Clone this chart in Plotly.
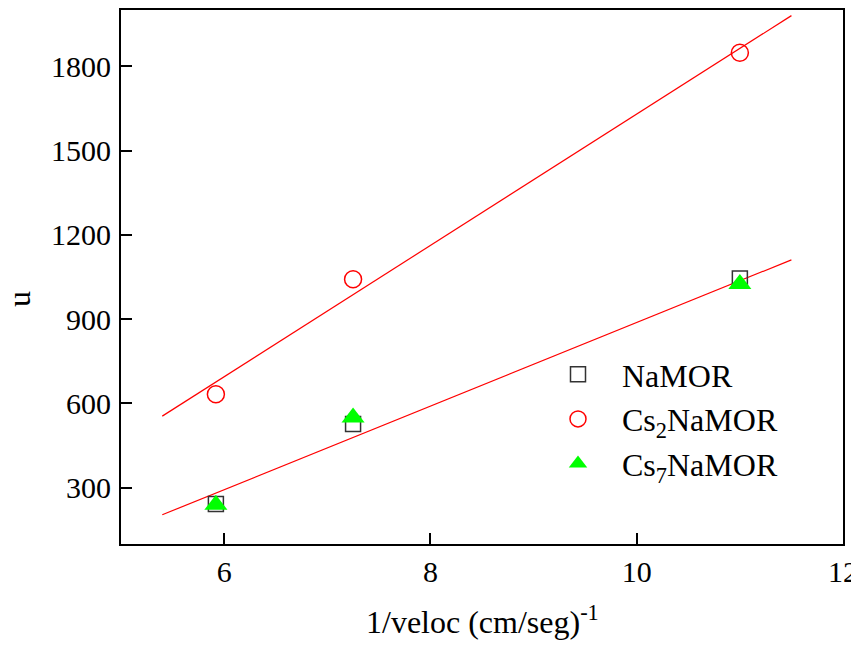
import plotly.graph_objects as go

x_vals = [5.92, 7.25, 11.0]
namor = [242, 527, 1045]
cs2namor = [633, 1042, 1848]
cs7namor = [240, 550, 1025]

fit_x = [5.4, 11.5]
fit_upper = [555, 1980]
fit_lower = [204, 1111]

x_ticks = [6, 8, 10, 12]
y_ticks = [300, 600, 900, 1200, 1500, 1800]

FONT = "Liberation Serif"
PAD = "\u00a0\u00a0\u00a0"

fig = go.Figure()
fig.add_trace(go.Scatter(x=fit_x, y=fit_upper, mode="lines",
                         line=dict(color="#ff0000", width=1.2), showlegend=False))
fig.add_trace(go.Scatter(x=fit_x, y=fit_lower, mode="lines",
                         line=dict(color="#ff0000", width=1.2), showlegend=False))
fig.add_trace(go.Scatter(x=x_vals, y=namor, mode="markers", name=PAD + "NaMOR",
                         marker=dict(symbol="square-open", size=15,
                                     color="#333333", line=dict(width=1.5))))
fig.add_trace(go.Scatter(x=x_vals, y=cs2namor, mode="markers", name=PAD + "Cs<sub>2</sub>NaMOR",
                         marker=dict(symbol="circle-open", size=17,
                                     color="#ff0000", line=dict(width=1.5))))
fig.add_trace(go.Scatter(x=x_vals, y=cs7namor, mode="markers", name=PAD + "Cs<sub>7</sub>NaMOR",
                         marker=dict(symbol="triangle-up", size=20,
                                     color="#00ff00", line=dict(width=0))))

axis_common = dict(showline=True, linecolor="black", linewidth=2, mirror=True,
                   ticks="inside", ticklen=11, tickwidth=2, tickcolor="black",
                   showgrid=False, zeroline=False, automargin=False,
                   tickfont=dict(family=FONT, size=30, color="black"))

# page has an 8px body margin: figure origin sits at (8, 8) in the window
fig.update_layout(
    width=851, height=640,
    margin=dict(l=113, r=16, t=2, b=104),
    paper_bgcolor="white", plot_bgcolor="white",
    font=dict(family=FONT, size=32, color="black"),
    xaxis=dict(range=[5, 12], tickvals=x_ticks, ticktext=[str(v) for v in x_ticks],
               ticklabelstandoff=0, **axis_common),
    yaxis=dict(range=[100, 2000], tickvals=y_ticks, ticktext=[str(v) for v in y_ticks],
               ticklabelstandoff=2, **axis_common),
    legend=dict(x=(558 - 121) / 722, y=(544 - 347) / 534, xanchor="left", yanchor="top",
                bgcolor="rgba(0,0,0,0)", font=dict(family=FONT, size=32),
                tracegroupgap=0),
    annotations=[
        dict(text="1/veloc (cm/seg)<sup>-1</sup>", xref="paper", yref="paper",
             x=0.5, y=-(620 - 544) / 534, xanchor="center", yanchor="middle",
             showarrow=False, font=dict(family=FONT, size=32)),
        dict(text="u", xref="paper", yref="paper",
             x=-(121 - 19) / 722, y=(544 - 299) / 534, xanchor="center", yanchor="middle",
             textangle=-90, showarrow=False, font=dict(family=FONT, size=32)),
    ],
)

fig.write_html("out.html")
